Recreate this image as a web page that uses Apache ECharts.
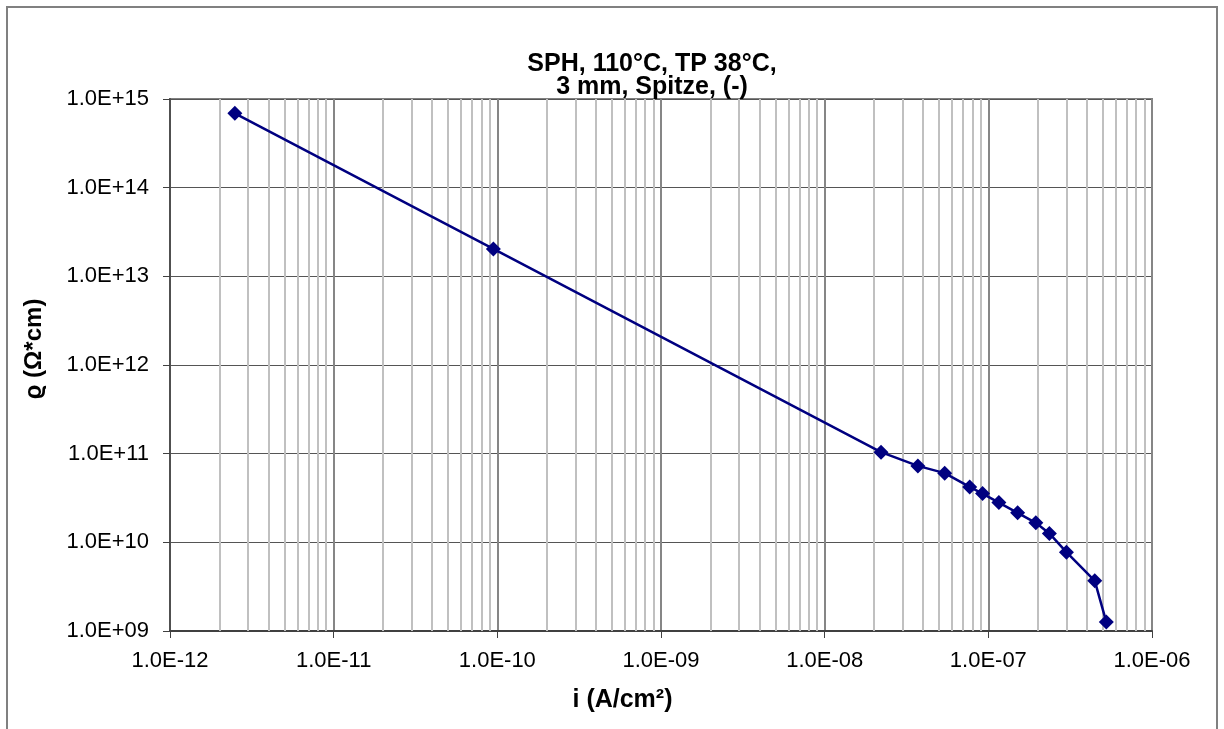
<!DOCTYPE html>
<html>
<head>
<meta charset="utf-8">
<script src="https://cdn.jsdelivr.net/npm/echarts@6/dist/echarts.min.js"></script>
<style>html,body{margin:0;padding:0;background:#fff}#chart{width:1224px;height:729px}</style>
</head>
<body>
<div id="chart"></div>
<script>
// Data
const currentDensity = [2.49e-12, 9.46e-11, 2.21e-8, 3.71e-8, 5.41e-8, 7.69e-8, 9.22e-8, 1.16e-7, 1.51e-7, 1.95e-7, 2.36e-7, 3.00e-7, 4.47e-7, 5.26e-7];
const resistivity    = [6.9e14, 2.04e13, 1.04e11, 7.28e10, 6.03e10, 4.22e10, 3.55e10, 2.81e10, 2.15e10, 1.66e10, 1.26e10, 7.75e9, 3.68e9, 1.26e9];

const xTicks = [1e-12, 1e-11, 1e-10, 1e-9, 1e-8, 1e-7, 1e-6];
const xTickLabels = ['1.0E-12', '1.0E-11', '1.0E-10', '1.0E-09', '1.0E-08', '1.0E-07', '1.0E-06'];
const yTicks = [1e9, 1e10, 1e11, 1e12, 1e13, 1e14, 1e15];
const yTickLabels = ['1.0E+09', '1.0E+10', '1.0E+11', '1.0E+12', '1.0E+13', '1.0E+14', '1.0E+15'];

const titleText = 'SPH, 110°C, TP 38°C,\n3 mm, Spitze, (-)';
const xName = 'i (A/cm²)';
const yName = 'ϱ (Ω*cm)';

function labelFor(ticks, labels, v) {
  const lv = Math.log10(v);
  for (let i = 0; i < ticks.length; i++) {
    if (Math.abs(Math.log10(ticks[i]) - lv) < 1e-6) return labels[i];
  }
  return '';
}

// minor vertical gridlines at 2..9 × each decade, spanning the y range
const yMin = yTicks[0], yMax = yTicks[yTicks.length - 1];
const minorX = [];
for (let i = 0; i < xTicks.length - 1; i++) {
  for (let k = 2; k <= 9; k++) {
    const v = k * xTicks[i];
    minorX.push({ coords: [[v, yMin], [v, yMax]] });
  }
}

const FONT = '"Liberation Sans", Arial, sans-serif';
const chart = echarts.init(document.getElementById('chart'), null, { renderer: 'canvas' });
chart.setOption({
  animation: false,
  backgroundColor: '#ffffff',
  graphic: [{
    type: 'rect', z: -10, silent: true,
    shape: { x: 7, y: 7, width: 1210, height: 760 },
    style: { fill: 'none', stroke: '#808080', lineWidth: 2 }
  }],
  title: {
    text: titleText,
    left: 652, top: 53, padding: 0,
    textAlign: 'center',
    textStyle: { fontFamily: FONT, fontWeight: 'bold', fontSize: 25, lineHeight: 23, color: '#000' }
  },
  grid: {
    left: 170, right: 72, top: 99, bottom: 98,
    show: true, borderColor: '#808080', borderWidth: 2, backgroundColor: '#fff'
  },
  xAxis: {
    type: 'log', logBase: 10, min: 1e-12, max: 1e-6, splitNumber: 6,
    name: xName, nameLocation: 'middle', nameGap: 57,
    nameTextStyle: { fontFamily: FONT, fontWeight: 'bold', fontSize: 25, color: '#000', padding: [0, 77, 0, 0] },
    axisLine: { show: true, onZero: false, lineStyle: { color: '#404040', width: 2 } },
    axisTick: { show: true, inside: false, length: 7, lineStyle: { color: '#404040', width: 1 } },
    axisLabel: { fontFamily: FONT, fontSize: 22, color: '#000', margin: 19, showMinLabel: true, showMaxLabel: true,
      formatter: v => labelFor(xTicks, xTickLabels, v) },
    splitLine: { show: true, lineStyle: { color: '#868686', width: 2 } }
  },
  yAxis: {
    type: 'log', logBase: 10, min: 1e9, max: 1e15, splitNumber: 6,
    name: yName, nameLocation: 'middle', nameGap: 124, nameRotate: 90,
    nameTextStyle: { fontFamily: FONT, fontWeight: 'bold', fontSize: 24, color: '#000', padding: [0, 0, 0, 32] },
    axisLine: { show: true, onZero: false, lineStyle: { color: '#505050', width: 2 } },
    axisTick: { show: true, inside: false, length: 7, lineStyle: { color: '#404040', width: 1 } },
    axisLabel: { fontFamily: FONT, fontSize: 22, color: '#000', margin: 21, showMinLabel: true, showMaxLabel: true,
      formatter: v => labelFor(yTicks, yTickLabels, v) },
    splitLine: { show: true, lineStyle: { color: '#555555', width: 1 } }
  },
  series: [
    {
      type: 'lines', coordinateSystem: 'cartesian2d', z: 1, silent: true,
      polyline: false,
      lineStyle: { color: '#c0c0c0', width: 2, opacity: 1, curveness: 0 },
      emphasis: { disabled: true },
      data: minorX
    },
    {
      type: 'line', z: 5,
      data: currentDensity.map((x, i) => [x, resistivity[i]]),
      symbol: 'diamond', symbolSize: 15,
      lineStyle: { color: '#000080', width: 2.5 },
      itemStyle: { color: '#000080' }
    }
  ]
});
</script>
</body>
</html>
